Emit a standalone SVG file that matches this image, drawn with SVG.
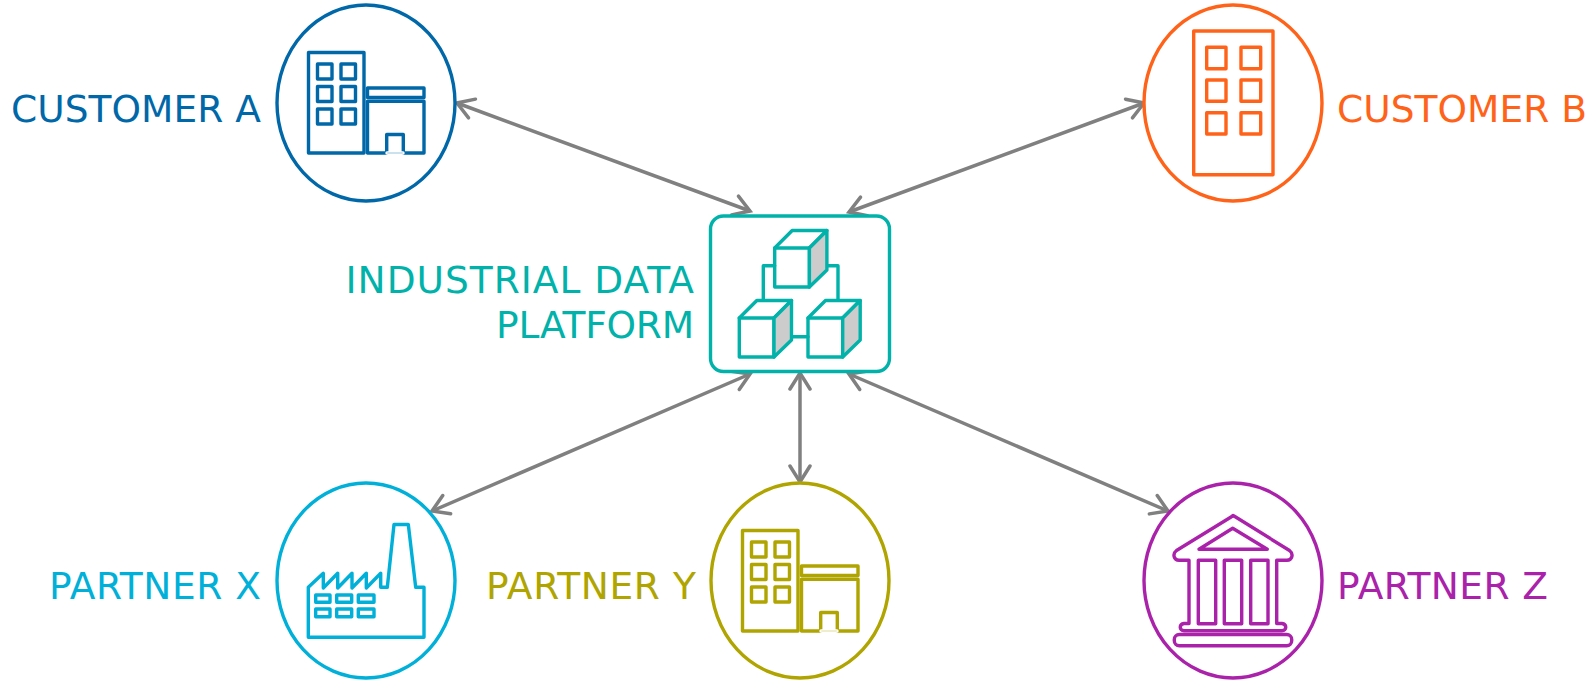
<svg xmlns="http://www.w3.org/2000/svg" xmlns:xlink="http://www.w3.org/1999/xlink" width="1596" height="681" viewBox="0 0 1596 681">
<style>
.s{fill:none;stroke-width:3.4;stroke-linejoin:round;stroke-linecap:round}
.e{fill:#fff;stroke-width:3.4}
.t{font-family:"DejaVu Sans",sans-serif;font-size:37.5px}
.c{stroke:#808080;stroke-width:3.5;fill:none;marker-start:url(#a);marker-end:url(#a)}
.f{stroke-opacity:.2;stroke-width:2}
.a{stroke:#0068a8;fill:none}.af{fill:#0068a8}
.b{stroke:#ff6319}.bf{fill:#ff6319}
.p{stroke:#00b2a9}.pf{fill:#00b2a9}
.x{stroke:#00b0d8}.xf{fill:#00b0d8}
.y{stroke:#b0a400}.yf{fill:#b0a400}
.z{stroke:#aa22aa}.zf{fill:#aa22aa}
</style>
<defs>
<marker id="a" viewBox="-20 -12 24 24" markerUnits="userSpaceOnUse" markerWidth="24" markerHeight="24" refX="0" refY="0" orient="auto-start-reverse">
<path d="M-16-10L0 0L-16 10" fill="none" stroke="#808080" stroke-width="3.5" stroke-linecap="round"/>
</marker>
<g id="bld">
<rect x="308.500" y="52.500" width="55.500" height="100.500"/>
<rect x="317.500" y="64" width="14.500" height="15"/><rect x="341" y="64" width="14.500" height="15"/>
<rect x="317.500" y="86.500" width="14.500" height="15"/><rect x="341" y="86.500" width="14.500" height="15"/>
<rect x="317.500" y="109" width="14.500" height="15"/><rect x="341" y="109" width="14.500" height="15"/>
<rect x="367.500" y="88" width="56.500" height="9.500"/>
<path d="M386.700 153V134.500H403.300V153H424V101.200H367.500V153Z"/>
<path d="M387 153H403" stroke="#fff" stroke-width="3.400"/>
<path class="f" d="M388 153H402"/>
</g>
<g id="cube">
<path d="M0 0H34.700V39H0Z"/>
<path d="M0 0L17.500-17.500H52.200L34.700 0"/>
<path d="M34.700 0L52.200-17.500V22L34.700 39Z" fill="#ccc"/>
</g>
</defs>
<g id="connectors">
<path class="c" d="M457 103L750 211"/>
<path class="c" d="M1144 103L849 212"/>
<path class="c" d="M432 511L750 374"/>
<path class="c" d="M800 373V482"/>
<path class="c" d="M1168 511L849 374"/>
</g>
<g id="customer-a">
<ellipse class="e a" cx="366" cy="103" rx="89" ry="98"/>
<use xlink:href="#bld" href="#bld" class="s a"/>
<text class="t af" x="11" y="122" textLength="250">CUSTOMER A</text>
</g>
<g id="customer-b">
<ellipse class="e b" cx="1233" cy="103" rx="89" ry="98"/>
<g class="s b">
<rect x="1193.700" y="31" width="79.300" height="143.700"/>
<rect x="1206.700" y="47.300" width="19.300" height="21.400"/><rect x="1241" y="47.300" width="19.700" height="21.400"/>
<rect x="1206.700" y="80" width="19.300" height="21.300"/><rect x="1241" y="80" width="19.700" height="21.300"/>
<rect x="1206.700" y="112.700" width="19.300" height="21.300"/><rect x="1241" y="112.700" width="19.700" height="21.300"/>
</g>
<text class="t bf" x="1337" y="122" textLength="250">CUSTOMER B</text>
</g>
<g id="platform">
<rect class="e p" x="710.500" y="216" width="179" height="155.500" rx="13"/>
<g class="s p">
<path d="M763.300 300V265.700H774.700M827.300 265.700H838V300M791.700 336.700H808"/>
<use href="#cube" x="774.700" y="248"/>
<use href="#cube" x="739.300" y="318"/>
<use href="#cube" x="808" y="318"/>
</g>
<text class="t pf" x="345.500" y="293" textLength="348.500">INDUSTRIAL DATA</text>
<text class="t pf" x="496" y="338" textLength="198">PLATFORM</text>
</g>
<g id="partner-x">
<ellipse class="e x" cx="366" cy="580.500" rx="89" ry="97.500"/>
<g class="s x">
<path d="M308.300 587.300L323.300 573.300V588L337.700 573.300V588L352 573.300V588L366.300 573.300V588L380.700 573.300V587.300H387.300L394 524.500H408.300L415.700 587.300H424V637.300H308.300Z"/>
<rect x="315.700" y="595" width="14.300" height="7.300"/><rect x="336.700" y="595" width="15" height="7.300"/><rect x="358.300" y="595" width="15.700" height="7.300"/>
<rect x="315.700" y="609" width="14.300" height="7.700"/><rect x="336.700" y="609" width="15" height="7.700"/><rect x="358.300" y="609" width="15.700" height="7.700"/>
</g>
<text class="t xf" x="49" y="599" textLength="212">PARTNER X</text>
</g>
<g id="partner-y">
<ellipse class="e y" cx="800" cy="580.500" rx="89" ry="97.500"/>
<use href="#bld" x="434" y="478" class="s y"/>
<text class="t yf" x="486" y="599" textLength="210">PARTNER Y</text>
</g>
<g id="partner-z">
<ellipse class="e z" cx="1233" cy="580.500" rx="89" ry="97.500"/>
<g class="s z">
<path d="M1232.700 516L1176.500 550.500C1172 554 1174 560.300 1179 560.300H1189V623.500H1184C1179 624 1179 630.700 1184 630.700H1282C1287 630.700 1287 624 1282 623.500H1276.700V560.300H1287C1292 560.300 1294 554 1289.500 550.500L1234 516Q1232.700 515 1232.700 516Z"/>
<path d="M1232.700 528.300L1199 549.300H1267.300Z"/>
<rect x="1198.300" y="560.300" width="17.400" height="63.500"/><rect x="1224.300" y="560.300" width="17.400" height="63.500"/><rect x="1250.700" y="560.300" width="17.300" height="63.500"/>
<rect x="1174.300" y="634.500" width="117.400" height="11.200" rx="5"/>
</g>
<text class="t zf" x="1337" y="599" textLength="211">PARTNER Z</text>
</g>
</svg>
